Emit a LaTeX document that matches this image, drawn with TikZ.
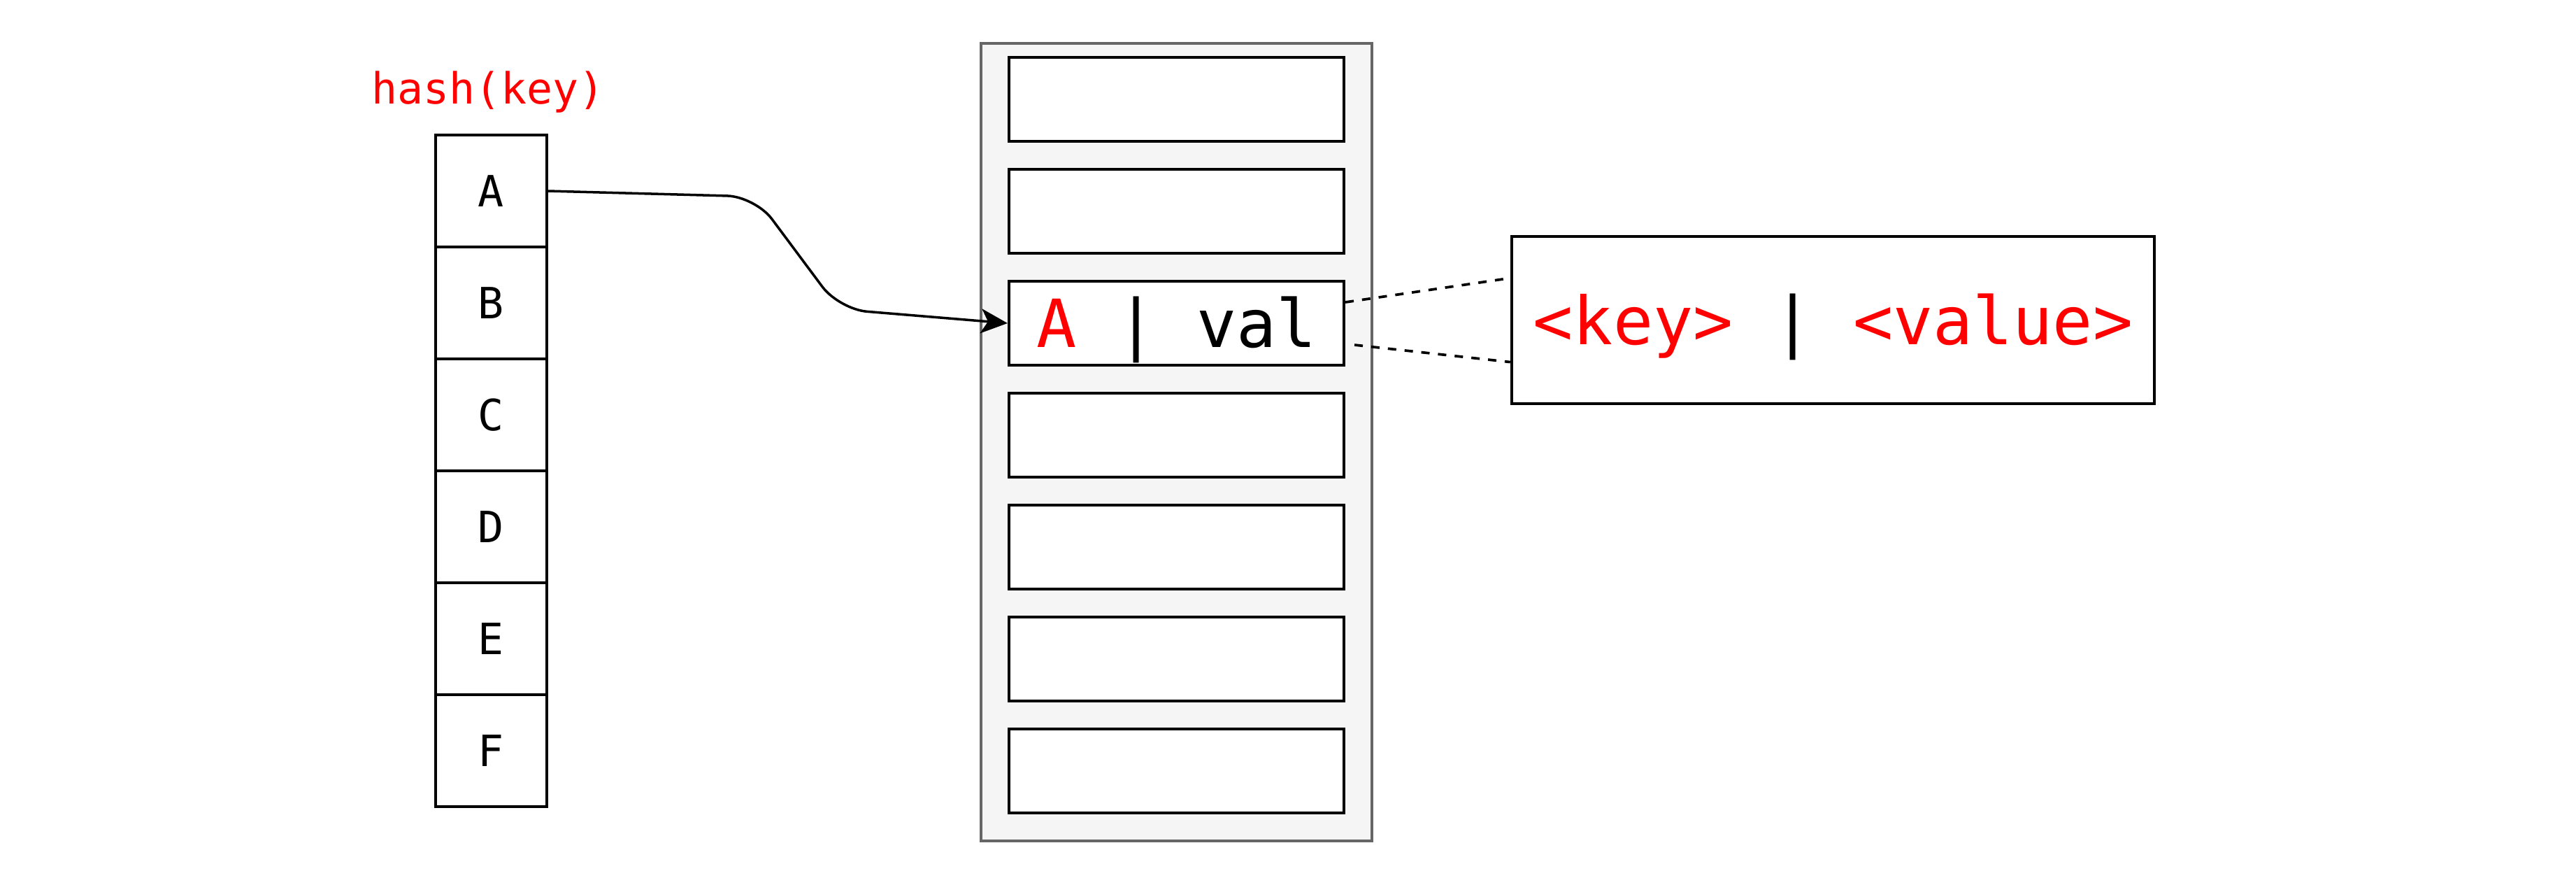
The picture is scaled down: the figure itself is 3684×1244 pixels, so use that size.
\documentclass[tikz,border=0pt]{standalone}
\usepackage{fontspec}
\setmonofont{DejaVu Sans Mono}
\usetikzlibrary{arrows.meta}
\definecolor{cfill}{HTML}{F5F5F5}
\definecolor{cline}{HTML}{666666}
\definecolor{kred}{HTML}{FF0000}
\begin{document}
\begin{tikzpicture}[x=0.01cm,y=-0.01cm,
  smallfont/.style={font=\ttfamily\fontsize{17.5}{20}\selectfont},
  bigfont/.style={font=\ttfamily\fontsize{27}{32}\selectfont},
  cell/.style={draw,line width=1.1pt,minimum width=1.59cm,minimum height=1.6cm,inner sep=0pt,smallfont,text height=0.45cm,text depth=0pt},
  slotbox/.style={draw,fill=white,line width=1.1pt,minimum width=4.79cm,minimum height=1.2cm,inner sep=0pt,bigfont,text height=0.69cm,text depth=0pt},
  kvbox/.style={draw,fill=white,line width=1.1pt,minimum width=9.19cm,minimum height=2.39cm,inner sep=0pt,bigfont,text height=0.69cm,text depth=0pt},
  tablebox/.style={draw=cline,fill=cfill,line width=1.1pt,minimum width=5.59cm,minimum height=11.4cm,inner sep=0pt},
  dashline/.style={line width=1.05pt,dash pattern=on 0.12cm off 0.12cm},
  link/.style={line width=1pt,rounded corners=0.4cm,-{Stealth[length=0.38cm,width=0.35cm,inset=0.1cm]}}
]
\useasboundingbox (0,0) rectangle (3684,1244);
% hash label
\node[smallfont,text=kred,anchor=base,inner sep=0pt] (hk) at (698,148) {hash(key)};
% column cells
\foreach \l [count=\i from 0] in {A,B,C,D,E,F}
  \node[cell] (c\l) at (702.5,{273+160*\i}) {\l};
% table container
\node[tablebox] (table) at (1682.5,632) {};
% slots
\foreach \i in {1,2,4,5,6,7}
  \node[slotbox] (s\i) at (1682.5,{142+160*(\i-1)}) {};
\node[slotbox] (s3) at (1682.5,462) {\textcolor{kred}{A} | val};
% key-value box
\node[kvbox] (kv) at (2621.5,457.5) {\textcolor{kred}{<key>} | \textcolor{kred}{<value>}};
% arrow
\draw[link] (cA.east) -- (1080,281) -- (1200,442) -- (s3.west);
% dashed lines
\draw[dashline] ([yshift=0.3cm]s3.east) -- ([yshift=0.6cm]kv.west);
\draw[dashline] ([xshift=0.13cm,yshift=-0.31cm]s3.east) -- ([yshift=-0.6cm]kv.west);
\end{tikzpicture}
\end{document}
